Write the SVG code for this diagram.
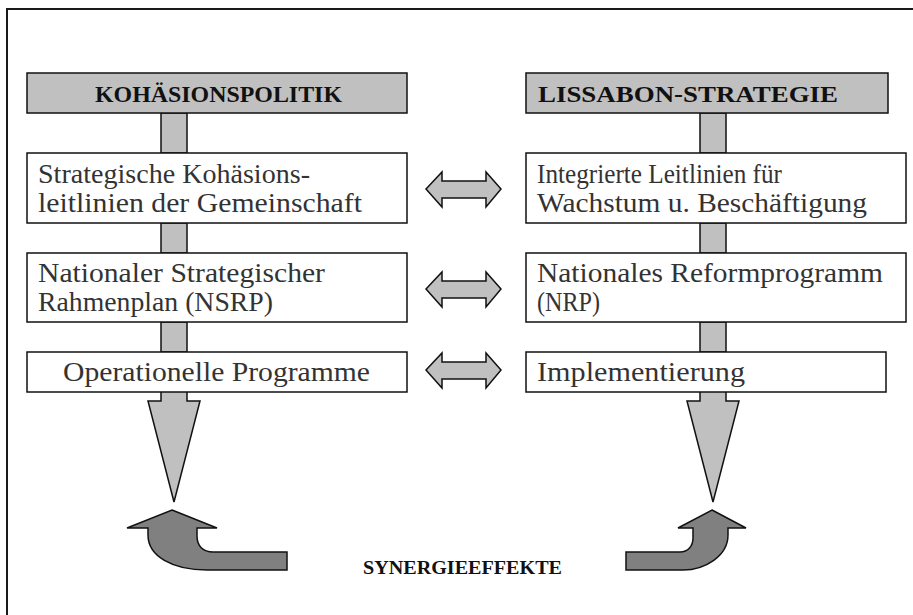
<svg xmlns="http://www.w3.org/2000/svg" width="913" height="615" viewBox="0 0 913 615">
<style>
.frame{fill:none;stroke:#1a1a1a;stroke-width:2}
.title{fill:#c0c0c0;stroke:#111;stroke-width:1.5}
.box{fill:#fff;stroke:#111;stroke-width:1.5}
.conn{fill:#c0c0c0;stroke:#111;stroke-width:1.5;stroke-linejoin:miter}
.curve{fill:#808080;stroke:#111;stroke-width:1.5}
.t{font-family:"Liberation Serif","Times New Roman",serif;font-size:27px;fill:#333}
.h{font-family:"Liberation Serif","Times New Roman",serif;font-size:23px;font-weight:bold;fill:#111}
.s{font-family:"Liberation Serif","Times New Roman",serif;font-size:19px;font-weight:bold;fill:#111}
</style>
<rect width="913" height="615" fill="#fff"/>
<path class="frame" d="M7,615 L7,9 L913,9"/>

<g id="connectors">
  <rect class="conn" x="161" y="113" width="26" height="40"/>
  <rect class="conn" x="161" y="223" width="26" height="30"/>
  <rect class="conn" x="161" y="322" width="26" height="30"/>
  <path class="conn" d="M161,392 L161,401 L148,401 L174,502 L200,401 L187,401 L187,392"/>
  <rect class="conn" x="700" y="113" width="26" height="40"/>
  <rect class="conn" x="700" y="223" width="26" height="30"/>
  <rect class="conn" x="700" y="322" width="26" height="30"/>
  <path class="conn" d="M700,392 L700,401 L687,401 L713,502 L739,401 L726,401 L726,392"/>
  <path class="conn" d="M426,189 L442,172 L442,181 L486,181 L486,172 L501,189 L486,207 L486,198 L442,198 L442,207 Z"/>
  <path class="conn" d="M426,289 L442,272 L442,281 L486,281 L486,272 L501,289 L486,307 L486,298 L442,298 L442,307 Z"/>
  <path class="conn" d="M426,370 L442,353 L442,362 L486,362 L486,353 L501,370 L486,388 L486,379 L442,379 L442,388 Z"/>
  <path class="curve" d="M172,510 L217,528 L197,528 L197,536 C197,546 203,552 213,552 L287,552 L287,570 L207,570 C172,570 148,556 148,535 L148,528 L127,528 Z"/>
  <path class="curve" d="M712,510 L746,528 L728,528 L728,535 C728,556 705,570 683,570 L626,570 L626,552 L680,552 C688,552 693,546 693,538 L693,528 L678,528 Z"/>
</g>

<g id="kohaesionspolitik">
  <rect class="title" x="27" y="73" width="380" height="40"/>
  <text class="h" x="95" y="102" textLength="247" lengthAdjust="spacingAndGlyphs">KOHÄSIONSPOLITIK</text>
</g>
<g id="lissabon">
  <rect class="title" x="526" y="73" width="362" height="40"/>
  <text class="h" x="538" y="102" textLength="300" lengthAdjust="spacingAndGlyphs">LISSABON-STRATEGIE</text>
</g>
<g id="leitlinien-kohaesion">
  <rect class="box" x="27" y="153" width="380" height="70"/>
  <text class="t" x="38" y="183" textLength="272" lengthAdjust="spacingAndGlyphs">Strategische Kohäsions-</text>
  <text class="t" x="38" y="212" textLength="324" lengthAdjust="spacingAndGlyphs">leitlinien der Gemeinschaft</text>
</g>
<g id="leitlinien-wachstum">
  <rect class="box" x="526" y="153" width="380" height="70"/>
  <text class="t" x="537" y="183" textLength="245" lengthAdjust="spacingAndGlyphs">Integrierte Leitlinien für</text>
  <text class="t" x="537" y="212" textLength="330" lengthAdjust="spacingAndGlyphs">Wachstum u. Beschäftigung</text>
</g>
<g id="nsrp">
  <rect class="box" x="27" y="253" width="380" height="69"/>
  <text class="t" x="38" y="282" textLength="287" lengthAdjust="spacingAndGlyphs">Nationaler Strategischer</text>
  <text class="t" x="38" y="311" textLength="235" lengthAdjust="spacingAndGlyphs">Rahmenplan (NSRP)</text>
</g>
<g id="nrp">
  <rect class="box" x="526" y="253" width="380" height="69"/>
  <text class="t" x="537" y="282" textLength="346" lengthAdjust="spacingAndGlyphs">Nationales Reformprogramm</text>
  <text class="t" x="537" y="311" textLength="63" lengthAdjust="spacingAndGlyphs">(NRP)</text>
</g>
<g id="operationelle">
  <rect class="box" x="27" y="352" width="380" height="40"/>
  <text class="t" x="63" y="381" textLength="307" lengthAdjust="spacingAndGlyphs">Operationelle Programme</text>
</g>
<g id="implementierung">
  <rect class="box" x="526" y="352" width="360" height="40"/>
  <text class="t" x="537" y="381" textLength="208" lengthAdjust="spacingAndGlyphs">Implementierung</text>
</g>
<g id="synergieeffekte">
  <text class="s" x="363" y="574" textLength="199" lengthAdjust="spacingAndGlyphs">SYNERGIEEFFEKTE</text>
</g>
</svg>
